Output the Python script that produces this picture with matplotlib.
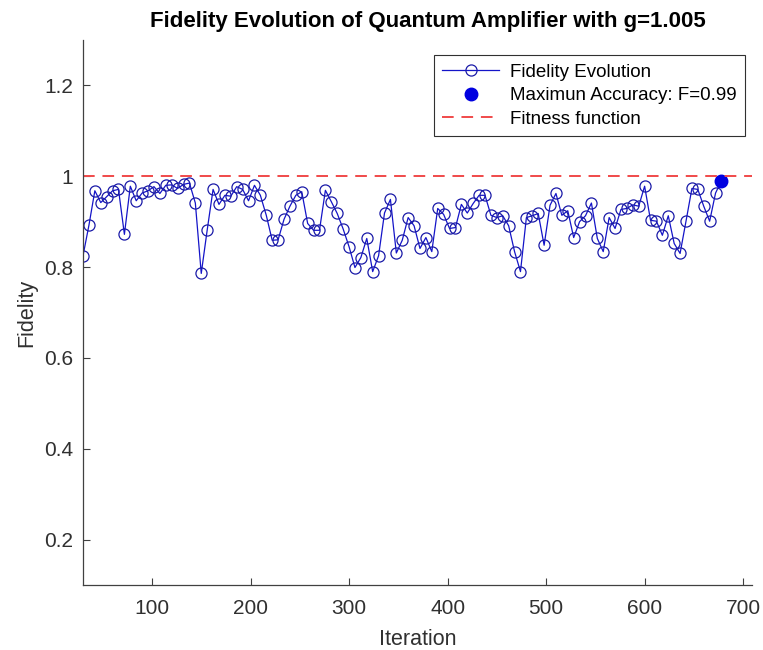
import numpy as np
import matplotlib.pyplot as plt

plt.rcParams['font.family'] = ['Liberation Sans', 'DejaVu Sans']

# iterations sampled every 6 steps, from 30 to 678
iterations = np.arange(30, 679, 6)
fidelity = [
    0.825, 0.892, 0.968, 0.942, 0.955, 0.968, 0.971, 0.872, 0.978, 0.946,
    0.963, 0.968, 0.977, 0.962, 0.980, 0.981, 0.973, 0.982, 0.985, 0.941,
    0.786, 0.881, 0.971, 0.938, 0.958, 0.956, 0.977, 0.971, 0.946, 0.980,
    0.958, 0.914, 0.859, 0.860, 0.905, 0.934, 0.958, 0.966, 0.896, 0.881,
    0.881, 0.969, 0.944, 0.918, 0.884, 0.845, 0.799, 0.821, 0.863, 0.790,
    0.825, 0.919, 0.949, 0.831, 0.859, 0.909, 0.891, 0.841, 0.865, 0.834,
    0.929, 0.916, 0.885, 0.887, 0.938, 0.919, 0.940, 0.958, 0.958, 0.914,
    0.909, 0.913, 0.891, 0.834, 0.790, 0.909, 0.913, 0.918, 0.848, 0.936,
    0.962, 0.914, 0.924, 0.865, 0.900, 0.913, 0.941, 0.863, 0.834, 0.909,
    0.885, 0.927, 0.929, 0.937, 0.934, 0.978, 0.903, 0.901, 0.870, 0.913,
    0.852, 0.830, 0.901, 0.973, 0.971, 0.934, 0.901, 0.963, 0.990,
]
fitness_level = 1.0
g = 1.005

best = int(np.argmax(fidelity))

fig = plt.figure(figsize=(7.63, 6.5), dpi=100)
ax = fig.add_axes([0.1088, 0.1, 0.8768, 0.8385])

ax.plot(iterations, fidelity, '-o', color='#1414c8', lw=0.9,
        markerfacecolor='none', markeredgecolor='#1a1aa8', markersize=8,
        markeredgewidth=0.9, label='Fidelity Evolution')
ax.plot(iterations[best], fidelity[best], 'o', color='#0000e0', markersize=9,
        label=f'Maximun Accuracy: F={fidelity[best]:.2f}')
ax.axhline(fitness_level, color='#f04a4a', ls=(0, (6, 4)), lw=1.4,
           label='Fitness function')

ax.set_xlim(30, 709)
ax.set_ylim(0.1, 1.3)
ax.set_xticks(range(100, 701, 100))
ax.set_yticks([0.2, 0.4, 0.6, 0.8, 1.0, 1.2])
ax.set_yticklabels(['0.2', '0.4', '0.6', '0.8', '1', '1.2'])

for side in ('top', 'right'):
    ax.spines[side].set_visible(False)
for side in ('left', 'bottom'):
    ax.spines[side].set_color('#404040')
    ax.spines[side].set_linewidth(0.9)
ax.tick_params(direction='in', length=5, width=0.8, color='#404040',
               labelcolor='#303030', labelsize=15)
ax.tick_params(axis='x', pad=10)
ax.tick_params(axis='y', pad=7)

ax.set_xlabel('Iteration', fontsize=15.5, color='#303030', labelpad=8)
ax.set_ylabel('Fidelity', fontsize=15.5, color='#303030', labelpad=5)
ax.set_title(f'Fidelity Evolution of Quantum Amplifier with g={g}',
             fontsize=16, fontweight='bold', pad=9, x=0.515)

leg = ax.legend(loc='upper right', bbox_to_anchor=(0.9895, 0.9725), borderaxespad=0,
                fontsize=13.5, fancybox=False, framealpha=1, edgecolor='#303030',
                handlelength=3.0, borderpad=0.45, labelspacing=0.35,
                handletextpad=0.6)
leg.get_frame().set_linewidth(0.8)

fig.savefig('out.png', dpi=100)
